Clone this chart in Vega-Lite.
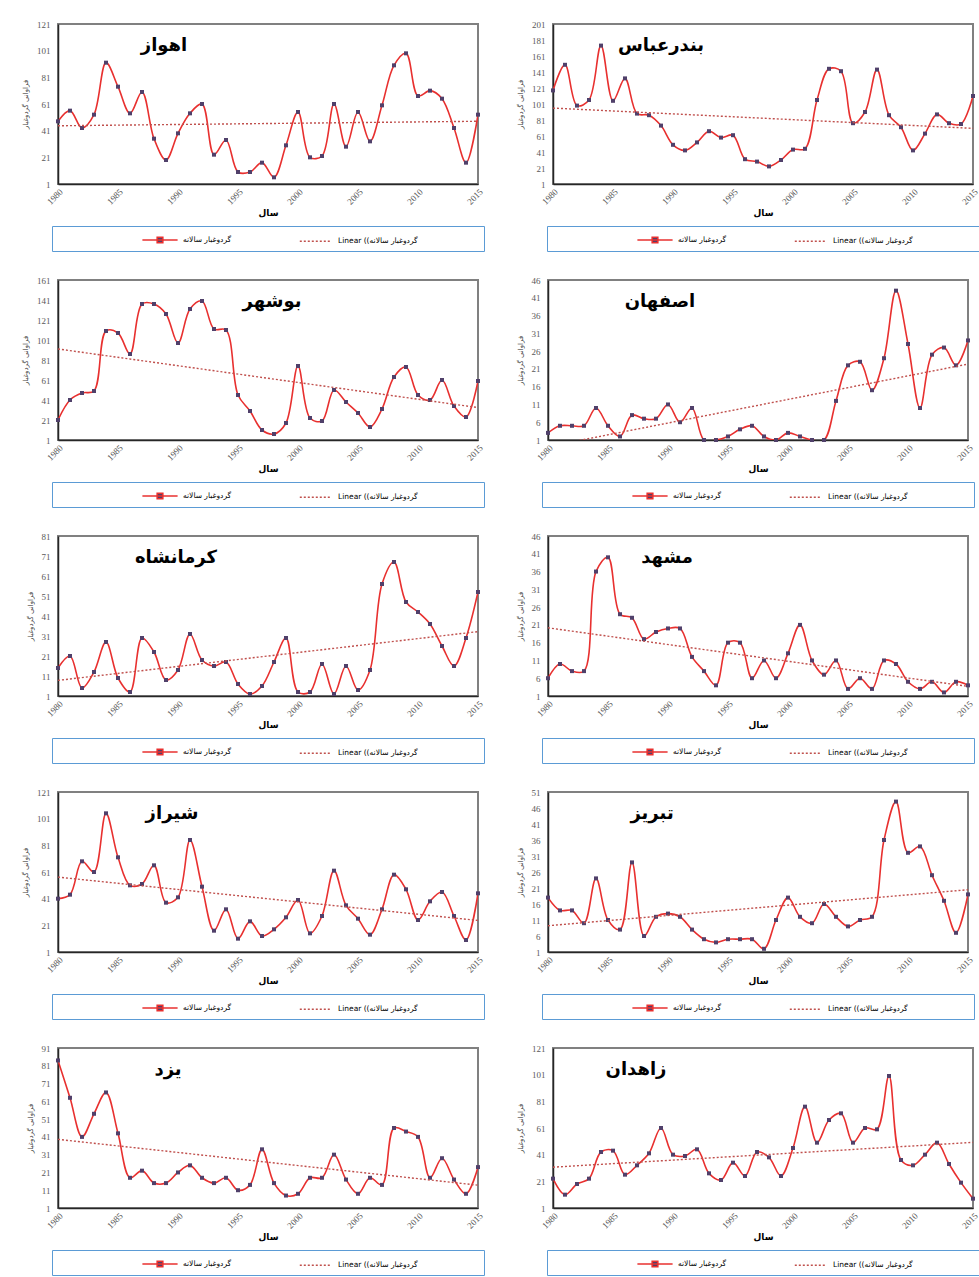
{
"$schema": "https://vega.github.io/schema/vega-lite/v6.json",
"padding": {"left": 20, "top": 19, "right": 0, "bottom": 0},
"datasets": {
"ahvaz": [{"year":1980,"value":48},{"year":1981,"value":56},{"year":1982,"value":43},{"year":1983,"value":53},{"year":1984,"value":92},{"year":1985,"value":74},{"year":1986,"value":54},{"year":1987,"value":70},{"year":1988,"value":35},{"year":1989,"value":19},{"year":1990,"value":39},{"year":1991,"value":54},{"year":1992,"value":61},{"year":1993,"value":23},{"year":1994,"value":34},{"year":1995,"value":10},{"year":1996,"value":10},{"year":1997,"value":17},{"year":1998,"value":6},{"year":1999,"value":30},{"year":2000,"value":55},{"year":2001,"value":21},{"year":2002,"value":22},{"year":2003,"value":61},{"year":2004,"value":29},{"year":2005,"value":55},{"year":2006,"value":33},{"year":2007,"value":60},{"year":2008,"value":90},{"year":2009,"value":99},{"year":2010,"value":67},{"year":2011,"value":71},{"year":2012,"value":65},{"year":2013,"value":43},{"year":2014,"value":17},{"year":2015,"value":53}],
"bandarabbas": [{"year":1980,"value":118},{"year":1981,"value":150},{"year":1982,"value":99},{"year":1983,"value":106},{"year":1984,"value":174},{"year":1985,"value":105},{"year":1986,"value":133},{"year":1987,"value":89},{"year":1988,"value":87},{"year":1989,"value":74},{"year":1990,"value":50},{"year":1991,"value":43},{"year":1992,"value":53},{"year":1993,"value":67},{"year":1994,"value":59},{"year":1995,"value":62},{"year":1996,"value":32},{"year":1997,"value":29},{"year":1998,"value":23},{"year":1999,"value":31},{"year":2000,"value":44},{"year":2001,"value":45},{"year":2002,"value":106},{"year":2003,"value":145},{"year":2004,"value":142},{"year":2005,"value":77},{"year":2006,"value":91},{"year":2007,"value":144},{"year":2008,"value":87},{"year":2009,"value":72},{"year":2010,"value":43},{"year":2011,"value":64},{"year":2012,"value":88},{"year":2013,"value":77},{"year":2014,"value":76},{"year":2015,"value":111}],
"bushehr": [{"year":1980,"value":21},{"year":1981,"value":41},{"year":1982,"value":48},{"year":1983,"value":50},{"year":1984,"value":110},{"year":1985,"value":108},{"year":1986,"value":87},{"year":1987,"value":137},{"year":1988,"value":137},{"year":1989,"value":127},{"year":1990,"value":98},{"year":1991,"value":132},{"year":1992,"value":140},{"year":1993,"value":112},{"year":1994,"value":111},{"year":1995,"value":46},{"year":1996,"value":30},{"year":1997,"value":11},{"year":1998,"value":7},{"year":1999,"value":18},{"year":2000,"value":75},{"year":2001,"value":23},{"year":2002,"value":20},{"year":2003,"value":51},{"year":2004,"value":39},{"year":2005,"value":28},{"year":2006,"value":14},{"year":2007,"value":32},{"year":2008,"value":64},{"year":2009,"value":74},{"year":2010,"value":46},{"year":2011,"value":41},{"year":2012,"value":61},{"year":2013,"value":35},{"year":2014,"value":24},{"year":2015,"value":60}],
"isfahan": [{"year":1980,"value":3},{"year":1981,"value":5},{"year":1982,"value":5},{"year":1983,"value":5},{"year":1984,"value":10},{"year":1985,"value":5},{"year":1986,"value":2},{"year":1987,"value":8},{"year":1988,"value":7},{"year":1989,"value":7},{"year":1990,"value":11},{"year":1991,"value":6},{"year":1992,"value":10},{"year":1993,"value":1},{"year":1994,"value":1},{"year":1995,"value":2},{"year":1996,"value":4},{"year":1997,"value":5},{"year":1998,"value":2},{"year":1999,"value":1},{"year":2000,"value":3},{"year":2001,"value":2},{"year":2002,"value":1},{"year":2003,"value":1},{"year":2004,"value":12},{"year":2005,"value":22},{"year":2006,"value":23},{"year":2007,"value":15},{"year":2008,"value":24},{"year":2009,"value":43},{"year":2010,"value":28},{"year":2011,"value":10},{"year":2012,"value":25},{"year":2013,"value":27},{"year":2014,"value":22},{"year":2015,"value":29}],
"kermanshah": [{"year":1980,"value":15},{"year":1981,"value":21},{"year":1982,"value":5},{"year":1983,"value":13},{"year":1984,"value":28},{"year":1985,"value":10},{"year":1986,"value":3},{"year":1987,"value":30},{"year":1988,"value":23},{"year":1989,"value":9},{"year":1990,"value":14},{"year":1991,"value":32},{"year":1992,"value":19},{"year":1993,"value":16},{"year":1994,"value":18},{"year":1995,"value":7},{"year":1996,"value":2},{"year":1997,"value":6},{"year":1998,"value":18},{"year":1999,"value":30},{"year":2000,"value":3},{"year":2001,"value":3},{"year":2002,"value":17},{"year":2003,"value":2},{"year":2004,"value":16},{"year":2005,"value":4},{"year":2006,"value":14},{"year":2007,"value":57},{"year":2008,"value":68},{"year":2009,"value":48},{"year":2010,"value":43},{"year":2011,"value":37},{"year":2012,"value":26},{"year":2013,"value":16},{"year":2014,"value":30},{"year":2015,"value":53}],
"mashhad": [{"year":1980,"value":6},{"year":1981,"value":10},{"year":1982,"value":8},{"year":1983,"value":8},{"year":1984,"value":36},{"year":1985,"value":40},{"year":1986,"value":24},{"year":1987,"value":23},{"year":1988,"value":17},{"year":1989,"value":19},{"year":1990,"value":20},{"year":1991,"value":20},{"year":1992,"value":12},{"year":1993,"value":8},{"year":1994,"value":4},{"year":1995,"value":16},{"year":1996,"value":16},{"year":1997,"value":6},{"year":1998,"value":11},{"year":1999,"value":6},{"year":2000,"value":13},{"year":2001,"value":21},{"year":2002,"value":11},{"year":2003,"value":7},{"year":2004,"value":11},{"year":2005,"value":3},{"year":2006,"value":6},{"year":2007,"value":3},{"year":2008,"value":11},{"year":2009,"value":10},{"year":2010,"value":5},{"year":2011,"value":3},{"year":2012,"value":5},{"year":2013,"value":2},{"year":2014,"value":5},{"year":2015,"value":4}],
"shiraz": [{"year":1980,"value":41},{"year":1981,"value":44},{"year":1982,"value":69},{"year":1983,"value":61},{"year":1984,"value":105},{"year":1985,"value":72},{"year":1986,"value":51},{"year":1987,"value":52},{"year":1988,"value":66},{"year":1989,"value":38},{"year":1990,"value":42},{"year":1991,"value":85},{"year":1992,"value":50},{"year":1993,"value":17},{"year":1994,"value":33},{"year":1995,"value":11},{"year":1996,"value":24},{"year":1997,"value":13},{"year":1998,"value":18},{"year":1999,"value":27},{"year":2000,"value":40},{"year":2001,"value":15},{"year":2002,"value":28},{"year":2003,"value":62},{"year":2004,"value":36},{"year":2005,"value":26},{"year":2006,"value":14},{"year":2007,"value":33},{"year":2008,"value":59},{"year":2009,"value":48},{"year":2010,"value":25},{"year":2011,"value":39},{"year":2012,"value":46},{"year":2013,"value":28},{"year":2014,"value":10},{"year":2015,"value":45}],
"tabriz": [{"year":1980,"value":18},{"year":1981,"value":14},{"year":1982,"value":14},{"year":1983,"value":10},{"year":1984,"value":24},{"year":1985,"value":11},{"year":1986,"value":8},{"year":1987,"value":29},{"year":1988,"value":6},{"year":1989,"value":12},{"year":1990,"value":13},{"year":1991,"value":12},{"year":1992,"value":8},{"year":1993,"value":5},{"year":1994,"value":4},{"year":1995,"value":5},{"year":1996,"value":5},{"year":1997,"value":5},{"year":1998,"value":2},{"year":1999,"value":11},{"year":2000,"value":18},{"year":2001,"value":12},{"year":2002,"value":10},{"year":2003,"value":16},{"year":2004,"value":12},{"year":2005,"value":9},{"year":2006,"value":11},{"year":2007,"value":12},{"year":2008,"value":36},{"year":2009,"value":48},{"year":2010,"value":32},{"year":2011,"value":34},{"year":2012,"value":25},{"year":2013,"value":17},{"year":2014,"value":7},{"year":2015,"value":19}],
"yazd": [{"year":1980,"value":84},{"year":1981,"value":63},{"year":1982,"value":41},{"year":1983,"value":54},{"year":1984,"value":66},{"year":1985,"value":43},{"year":1986,"value":18},{"year":1987,"value":22},{"year":1988,"value":15},{"year":1989,"value":15},{"year":1990,"value":21},{"year":1991,"value":25},{"year":1992,"value":18},{"year":1993,"value":15},{"year":1994,"value":18},{"year":1995,"value":11},{"year":1996,"value":14},{"year":1997,"value":34},{"year":1998,"value":15},{"year":1999,"value":8},{"year":2000,"value":9},{"year":2001,"value":18},{"year":2002,"value":18},{"year":2003,"value":31},{"year":2004,"value":17},{"year":2005,"value":9},{"year":2006,"value":18},{"year":2007,"value":14},{"year":2008,"value":46},{"year":2009,"value":44},{"year":2010,"value":41},{"year":2011,"value":18},{"year":2012,"value":29},{"year":2013,"value":17},{"year":2014,"value":9},{"year":2015,"value":24}],
"zahedan": [{"year":1980,"value":23},{"year":1981,"value":11},{"year":1982,"value":19},{"year":1983,"value":23},{"year":1984,"value":43},{"year":1985,"value":44},{"year":1986,"value":26},{"year":1987,"value":33},{"year":1988,"value":42},{"year":1989,"value":61},{"year":1990,"value":41},{"year":1991,"value":40},{"year":1992,"value":45},{"year":1993,"value":27},{"year":1994,"value":22},{"year":1995,"value":35},{"year":1996,"value":25},{"year":1997,"value":43},{"year":1998,"value":39},{"year":1999,"value":25},{"year":2000,"value":46},{"year":2001,"value":77},{"year":2002,"value":50},{"year":2003,"value":67},{"year":2004,"value":72},{"year":2005,"value":50},{"year":2006,"value":61},{"year":2007,"value":60},{"year":2008,"value":100},{"year":2009,"value":37},{"year":2010,"value":33},{"year":2011,"value":41},{"year":2012,"value":50},{"year":2013,"value":34},{"year":2014,"value":20},{"year":2015,"value":8}]
},
"spacing": 22,
"resolve": {"scale": {"color": "independent"}, "legend": {"color": "independent"}},
"vconcat": [
{"spacing": 29, "resolve": {"scale": {"color": "independent"}, "legend": {"color": "independent"}}, "hconcat": [
{"data": {"name": "ahvaz"}, "width": 420, "height": 160, "title": {"text": "اهواز", "dx": -104},
 "encoding": {"x": {"field": "year", "type": "quantitative", "scale": {"domain": [1980, 2015]}, "axis": {"values": [1980,1985,1990,1995,2000,2005,2010,2015], "format": "d", "title": "سال"}},
  "y": {"field": "value", "type": "quantitative", "scale": {"domain": [1, 121]}, "axis": {"values": [1,21,41,61,81,101,121], "title": "فراوانی گردوغبار"}}},
 "layer": [
  {"mark": {"type": "line", "interpolate": "catmull-rom", "strokeWidth": 1.6, "clip": true}, "encoding": {"color": {"datum": "گردوغبار سالانه", "type": "nominal", "scale": {"domain": ["گردوغبار سالانه", "Linear ((گردوغبار سالانه"], "range": ["#e8302f", "#c0504d"]}, "legend": {"title": " ", "labelExpr": "datum.index === 1 ? datum.label + '\u2800\u2800\u2800\u2800\u2800\u2800\u2800\u2800\u2800\u2800\u2800' : datum.label", "encode": {"symbols": {"update": {"shape": {"signal": "datum.index === 0 ? 'M-2.2,0H2.2M-0.35,-0.35H0.35V0.35H-0.35Z' : 'M-1.9,0H1.9'"}, "strokeDash": {"signal": "datum.index === 0 ? [1,0] : [2,2]"}, "fill": {"signal": "datum.index === 0 ? '#50406a' : 'transparent'"}}}}}}}},
  {"mark": {"type": "square", "size": 16, "color": "#50406a", "opacity": 1}},
  {"transform": [{"regression": "value", "on": "year"}], "mark": {"type": "line", "strokeWidth": 1.4, "strokeDash": [2, 2], "clip": true}, "encoding": {"color": {"datum": "Linear ((گردوغبار سالانه", "type": "nominal"}}}
 ]},
{"data": {"name": "bandarabbas"}, "width": 420, "height": 160, "title": {"text": "بندرعباس", "dx": -102},
 "encoding": {"x": {"field": "year", "type": "quantitative", "scale": {"domain": [1980, 2015]}, "axis": {"values": [1980,1985,1990,1995,2000,2005,2010,2015], "format": "d", "title": "سال"}},
  "y": {"field": "value", "type": "quantitative", "scale": {"domain": [1, 201]}, "axis": {"values": [1,21,41,61,81,101,121,141,161,181,201], "title": "فراوانی گردوغبار"}}},
 "layer": [
  {"mark": {"type": "line", "interpolate": "catmull-rom", "strokeWidth": 1.6, "clip": true}, "encoding": {"color": {"datum": "گردوغبار سالانه", "type": "nominal", "scale": {"domain": ["گردوغبار سالانه", "Linear ((گردوغبار سالانه"], "range": ["#e8302f", "#c0504d"]}, "legend": {"title": " ", "labelExpr": "datum.index === 1 ? datum.label + '\u2800\u2800\u2800\u2800\u2800\u2800\u2800\u2800\u2800\u2800\u2800' : datum.label", "encode": {"symbols": {"update": {"shape": {"signal": "datum.index === 0 ? 'M-2.2,0H2.2M-0.35,-0.35H0.35V0.35H-0.35Z' : 'M-1.9,0H1.9'"}, "strokeDash": {"signal": "datum.index === 0 ? [1,0] : [2,2]"}, "fill": {"signal": "datum.index === 0 ? '#50406a' : 'transparent'"}}}}}}}},
  {"mark": {"type": "square", "size": 16, "color": "#50406a", "opacity": 1}},
  {"transform": [{"regression": "value", "on": "year"}], "mark": {"type": "line", "strokeWidth": 1.4, "strokeDash": [2, 2], "clip": true}, "encoding": {"color": {"datum": "Linear ((گردوغبار سالانه", "type": "nominal"}}}
 ]}
]},
{"spacing": 29, "resolve": {"scale": {"color": "independent"}, "legend": {"color": "independent"}}, "hconcat": [
{"data": {"name": "bushehr"}, "width": 420, "height": 160, "title": {"text": "بوشهر", "dx": 4},
 "encoding": {"x": {"field": "year", "type": "quantitative", "scale": {"domain": [1980, 2015]}, "axis": {"values": [1980,1985,1990,1995,2000,2005,2010,2015], "format": "d", "title": "سال"}},
  "y": {"field": "value", "type": "quantitative", "scale": {"domain": [1, 161]}, "axis": {"values": [1,21,41,61,81,101,121,141,161], "title": "فراوانی گردوغبار"}}},
 "layer": [
  {"mark": {"type": "line", "interpolate": "catmull-rom", "strokeWidth": 1.6, "clip": true}, "encoding": {"color": {"datum": "گردوغبار سالانه", "type": "nominal", "scale": {"domain": ["گردوغبار سالانه", "Linear ((گردوغبار سالانه"], "range": ["#e8302f", "#c0504d"]}, "legend": {"title": " ", "labelExpr": "datum.index === 1 ? datum.label + '\u2800\u2800\u2800\u2800\u2800\u2800\u2800\u2800\u2800\u2800\u2800' : datum.label", "encode": {"symbols": {"update": {"shape": {"signal": "datum.index === 0 ? 'M-2.2,0H2.2M-0.35,-0.35H0.35V0.35H-0.35Z' : 'M-1.9,0H1.9'"}, "strokeDash": {"signal": "datum.index === 0 ? [1,0] : [2,2]"}, "fill": {"signal": "datum.index === 0 ? '#50406a' : 'transparent'"}}}}}}}},
  {"mark": {"type": "square", "size": 16, "color": "#50406a", "opacity": 1}},
  {"transform": [{"regression": "value", "on": "year"}], "mark": {"type": "line", "strokeWidth": 1.4, "strokeDash": [2, 2], "clip": true}, "encoding": {"color": {"datum": "Linear ((گردوغبار سالانه", "type": "nominal"}}}
 ]},
{"data": {"name": "isfahan"}, "width": 420, "height": 160, "title": {"text": "اصفهان", "dx": -98},
 "encoding": {"x": {"field": "year", "type": "quantitative", "scale": {"domain": [1980, 2015]}, "axis": {"values": [1980,1985,1990,1995,2000,2005,2010,2015], "format": "d", "title": "سال"}},
  "y": {"field": "value", "type": "quantitative", "scale": {"domain": [1, 46]}, "axis": {"values": [1,6,11,16,21,26,31,36,41,46], "title": "فراوانی گردوغبار"}}},
 "layer": [
  {"mark": {"type": "line", "interpolate": "catmull-rom", "strokeWidth": 1.6, "clip": true}, "encoding": {"color": {"datum": "گردوغبار سالانه", "type": "nominal", "scale": {"domain": ["گردوغبار سالانه", "Linear ((گردوغبار سالانه"], "range": ["#e8302f", "#c0504d"]}, "legend": {"title": " ", "labelExpr": "datum.index === 1 ? datum.label + '\u2800\u2800\u2800\u2800\u2800\u2800\u2800\u2800\u2800\u2800\u2800' : datum.label", "encode": {"symbols": {"update": {"shape": {"signal": "datum.index === 0 ? 'M-2.2,0H2.2M-0.35,-0.35H0.35V0.35H-0.35Z' : 'M-1.9,0H1.9'"}, "strokeDash": {"signal": "datum.index === 0 ? [1,0] : [2,2]"}, "fill": {"signal": "datum.index === 0 ? '#50406a' : 'transparent'"}}}}}}}},
  {"mark": {"type": "square", "size": 16, "color": "#50406a", "opacity": 1}},
  {"transform": [{"regression": "value", "on": "year"}], "mark": {"type": "line", "strokeWidth": 1.4, "strokeDash": [2, 2], "clip": true}, "encoding": {"color": {"datum": "Linear ((گردوغبار سالانه", "type": "nominal"}}}
 ]}
]},
{"spacing": 29, "resolve": {"scale": {"color": "independent"}, "legend": {"color": "independent"}}, "hconcat": [
{"data": {"name": "kermanshah"}, "width": 420, "height": 160, "title": {"text": "کرمانشاه", "dx": -92},
 "encoding": {"x": {"field": "year", "type": "quantitative", "scale": {"domain": [1980, 2015]}, "axis": {"values": [1980,1985,1990,1995,2000,2005,2010,2015], "format": "d", "title": "سال"}},
  "y": {"field": "value", "type": "quantitative", "scale": {"domain": [1, 81]}, "axis": {"values": [1,11,21,31,41,51,61,71,81], "title": "فراوانی گردوغبار"}}},
 "layer": [
  {"mark": {"type": "line", "interpolate": "catmull-rom", "strokeWidth": 1.6, "clip": true}, "encoding": {"color": {"datum": "گردوغبار سالانه", "type": "nominal", "scale": {"domain": ["گردوغبار سالانه", "Linear ((گردوغبار سالانه"], "range": ["#e8302f", "#c0504d"]}, "legend": {"title": " ", "labelExpr": "datum.index === 1 ? datum.label + '\u2800\u2800\u2800\u2800\u2800\u2800\u2800\u2800\u2800\u2800\u2800' : datum.label", "encode": {"symbols": {"update": {"shape": {"signal": "datum.index === 0 ? 'M-2.2,0H2.2M-0.35,-0.35H0.35V0.35H-0.35Z' : 'M-1.9,0H1.9'"}, "strokeDash": {"signal": "datum.index === 0 ? [1,0] : [2,2]"}, "fill": {"signal": "datum.index === 0 ? '#50406a' : 'transparent'"}}}}}}}},
  {"mark": {"type": "square", "size": 16, "color": "#50406a", "opacity": 1}},
  {"transform": [{"regression": "value", "on": "year"}], "mark": {"type": "line", "strokeWidth": 1.4, "strokeDash": [2, 2], "clip": true}, "encoding": {"color": {"datum": "Linear ((گردوغبار سالانه", "type": "nominal"}}}
 ]},
{"data": {"name": "mashhad"}, "width": 420, "height": 160, "title": {"text": "مشهد", "dx": -91},
 "encoding": {"x": {"field": "year", "type": "quantitative", "scale": {"domain": [1980, 2015]}, "axis": {"values": [1980,1985,1990,1995,2000,2005,2010,2015], "format": "d", "title": "سال"}},
  "y": {"field": "value", "type": "quantitative", "scale": {"domain": [1, 46]}, "axis": {"values": [1,6,11,16,21,26,31,36,41,46], "title": "فراوانی گردوغبار"}}},
 "layer": [
  {"mark": {"type": "line", "interpolate": "catmull-rom", "strokeWidth": 1.6, "clip": true}, "encoding": {"color": {"datum": "گردوغبار سالانه", "type": "nominal", "scale": {"domain": ["گردوغبار سالانه", "Linear ((گردوغبار سالانه"], "range": ["#e8302f", "#c0504d"]}, "legend": {"title": " ", "labelExpr": "datum.index === 1 ? datum.label + '\u2800\u2800\u2800\u2800\u2800\u2800\u2800\u2800\u2800\u2800\u2800' : datum.label", "encode": {"symbols": {"update": {"shape": {"signal": "datum.index === 0 ? 'M-2.2,0H2.2M-0.35,-0.35H0.35V0.35H-0.35Z' : 'M-1.9,0H1.9'"}, "strokeDash": {"signal": "datum.index === 0 ? [1,0] : [2,2]"}, "fill": {"signal": "datum.index === 0 ? '#50406a' : 'transparent'"}}}}}}}},
  {"mark": {"type": "square", "size": 16, "color": "#50406a", "opacity": 1}},
  {"transform": [{"regression": "value", "on": "year"}], "mark": {"type": "line", "strokeWidth": 1.4, "strokeDash": [2, 2], "clip": true}, "encoding": {"color": {"datum": "Linear ((گردوغبار سالانه", "type": "nominal"}}}
 ]}
]},
{"spacing": 29, "resolve": {"scale": {"color": "independent"}, "legend": {"color": "independent"}}, "hconcat": [
{"data": {"name": "shiraz"}, "width": 420, "height": 160, "title": {"text": "شیراز", "dx": -96},
 "encoding": {"x": {"field": "year", "type": "quantitative", "scale": {"domain": [1980, 2015]}, "axis": {"values": [1980,1985,1990,1995,2000,2005,2010,2015], "format": "d", "title": "سال"}},
  "y": {"field": "value", "type": "quantitative", "scale": {"domain": [1, 121]}, "axis": {"values": [1,21,41,61,81,101,121], "title": "فراوانی گردوغبار"}}},
 "layer": [
  {"mark": {"type": "line", "interpolate": "catmull-rom", "strokeWidth": 1.6, "clip": true}, "encoding": {"color": {"datum": "گردوغبار سالانه", "type": "nominal", "scale": {"domain": ["گردوغبار سالانه", "Linear ((گردوغبار سالانه"], "range": ["#e8302f", "#c0504d"]}, "legend": {"title": " ", "labelExpr": "datum.index === 1 ? datum.label + '\u2800\u2800\u2800\u2800\u2800\u2800\u2800\u2800\u2800\u2800\u2800' : datum.label", "encode": {"symbols": {"update": {"shape": {"signal": "datum.index === 0 ? 'M-2.2,0H2.2M-0.35,-0.35H0.35V0.35H-0.35Z' : 'M-1.9,0H1.9'"}, "strokeDash": {"signal": "datum.index === 0 ? [1,0] : [2,2]"}, "fill": {"signal": "datum.index === 0 ? '#50406a' : 'transparent'"}}}}}}}},
  {"mark": {"type": "square", "size": 16, "color": "#50406a", "opacity": 1}},
  {"transform": [{"regression": "value", "on": "year"}], "mark": {"type": "line", "strokeWidth": 1.4, "strokeDash": [2, 2], "clip": true}, "encoding": {"color": {"datum": "Linear ((گردوغبار سالانه", "type": "nominal"}}}
 ]},
{"data": {"name": "tabriz"}, "width": 420, "height": 160, "title": {"text": "تبریز", "dx": -106},
 "encoding": {"x": {"field": "year", "type": "quantitative", "scale": {"domain": [1980, 2015]}, "axis": {"values": [1980,1985,1990,1995,2000,2005,2010,2015], "format": "d", "title": "سال"}},
  "y": {"field": "value", "type": "quantitative", "scale": {"domain": [1, 51]}, "axis": {"values": [1,6,11,16,21,26,31,36,41,46,51], "title": "فراوانی گردوغبار"}}},
 "layer": [
  {"mark": {"type": "line", "interpolate": "catmull-rom", "strokeWidth": 1.6, "clip": true}, "encoding": {"color": {"datum": "گردوغبار سالانه", "type": "nominal", "scale": {"domain": ["گردوغبار سالانه", "Linear ((گردوغبار سالانه"], "range": ["#e8302f", "#c0504d"]}, "legend": {"title": " ", "labelExpr": "datum.index === 1 ? datum.label + '\u2800\u2800\u2800\u2800\u2800\u2800\u2800\u2800\u2800\u2800\u2800' : datum.label", "encode": {"symbols": {"update": {"shape": {"signal": "datum.index === 0 ? 'M-2.2,0H2.2M-0.35,-0.35H0.35V0.35H-0.35Z' : 'M-1.9,0H1.9'"}, "strokeDash": {"signal": "datum.index === 0 ? [1,0] : [2,2]"}, "fill": {"signal": "datum.index === 0 ? '#50406a' : 'transparent'"}}}}}}}},
  {"mark": {"type": "square", "size": 16, "color": "#50406a", "opacity": 1}},
  {"transform": [{"regression": "value", "on": "year"}], "mark": {"type": "line", "strokeWidth": 1.4, "strokeDash": [2, 2], "clip": true}, "encoding": {"color": {"datum": "Linear ((گردوغبار سالانه", "type": "nominal"}}}
 ]}
]},
{"spacing": 29, "resolve": {"scale": {"color": "independent"}, "legend": {"color": "independent"}}, "hconcat": [
{"data": {"name": "yazd"}, "width": 420, "height": 160, "title": {"text": "یزد", "dx": -100},
 "encoding": {"x": {"field": "year", "type": "quantitative", "scale": {"domain": [1980, 2015]}, "axis": {"values": [1980,1985,1990,1995,2000,2005,2010,2015], "format": "d", "title": "سال"}},
  "y": {"field": "value", "type": "quantitative", "scale": {"domain": [1, 91]}, "axis": {"values": [1,11,21,31,41,51,61,71,81,91], "title": "فراوانی گردوغبار"}}},
 "layer": [
  {"mark": {"type": "line", "interpolate": "catmull-rom", "strokeWidth": 1.6, "clip": true}, "encoding": {"color": {"datum": "گردوغبار سالانه", "type": "nominal", "scale": {"domain": ["گردوغبار سالانه", "Linear ((گردوغبار سالانه"], "range": ["#e8302f", "#c0504d"]}, "legend": {"title": " ", "labelExpr": "datum.index === 1 ? datum.label + '\u2800\u2800\u2800\u2800\u2800\u2800\u2800\u2800\u2800\u2800\u2800' : datum.label", "encode": {"symbols": {"update": {"shape": {"signal": "datum.index === 0 ? 'M-2.2,0H2.2M-0.35,-0.35H0.35V0.35H-0.35Z' : 'M-1.9,0H1.9'"}, "strokeDash": {"signal": "datum.index === 0 ? [1,0] : [2,2]"}, "fill": {"signal": "datum.index === 0 ? '#50406a' : 'transparent'"}}}}}}}},
  {"mark": {"type": "square", "size": 16, "color": "#50406a", "opacity": 1}},
  {"transform": [{"regression": "value", "on": "year"}], "mark": {"type": "line", "strokeWidth": 1.4, "strokeDash": [2, 2], "clip": true}, "encoding": {"color": {"datum": "Linear ((گردوغبار سالانه", "type": "nominal"}}}
 ]},
{"data": {"name": "zahedan"}, "width": 420, "height": 160, "title": {"text": "زاهدان", "dx": -127},
 "encoding": {"x": {"field": "year", "type": "quantitative", "scale": {"domain": [1980, 2015]}, "axis": {"values": [1980,1985,1990,1995,2000,2005,2010,2015], "format": "d", "title": "سال"}},
  "y": {"field": "value", "type": "quantitative", "scale": {"domain": [1, 121]}, "axis": {"values": [1,21,41,61,81,101,121], "title": "فراوانی گردوغبار"}}},
 "layer": [
  {"mark": {"type": "line", "interpolate": "catmull-rom", "strokeWidth": 1.6, "clip": true}, "encoding": {"color": {"datum": "گردوغبار سالانه", "type": "nominal", "scale": {"domain": ["گردوغبار سالانه", "Linear ((گردوغبار سالانه"], "range": ["#e8302f", "#c0504d"]}, "legend": {"title": " ", "labelExpr": "datum.index === 1 ? datum.label + '\u2800\u2800\u2800\u2800\u2800\u2800\u2800\u2800\u2800\u2800\u2800' : datum.label", "encode": {"symbols": {"update": {"shape": {"signal": "datum.index === 0 ? 'M-2.2,0H2.2M-0.35,-0.35H0.35V0.35H-0.35Z' : 'M-1.9,0H1.9'"}, "strokeDash": {"signal": "datum.index === 0 ? [1,0] : [2,2]"}, "fill": {"signal": "datum.index === 0 ? '#50406a' : 'transparent'"}}}}}}}},
  {"mark": {"type": "square", "size": 16, "color": "#50406a", "opacity": 1}},
  {"transform": [{"regression": "value", "on": "year"}], "mark": {"type": "line", "strokeWidth": 1.4, "strokeDash": [2, 2], "clip": true}, "encoding": {"color": {"datum": "Linear ((گردوغبار سالانه", "type": "nominal"}}}
 ]}
]}
],
"config": {
 "background": "white",
 "view": {"stroke": "#808080", "strokeWidth": 2},
 "title": {"font": "DejaVu Sans", "fontSize": 18, "fontWeight": "bold", "color": "#000000", "anchor": "middle", "frame": "group", "offset": -35},
 "axis": {"grid": false, "ticks": false, "domainColor": "#262626", "domainWidth": 1.5, "labelFont": "Liberation Serif", "labelFontSize": 9, "labelColor": "#595959", "titleFont": "DejaVu Sans", "titleColor": "#404040"},
 "axisX": {"labelAngle": -45, "titleFontSize": 9, "titleFontWeight": "bold", "titleColor": "#000000", "titlePadding": 2, "labelPadding": 3},
 "axisY": {"titleFontSize": 7, "titleFontWeight": "normal", "labelPadding": 8, "titlePadding": 8},
 "legend": {"orient": "bottom", "direction": "horizontal", "strokeColor": "#5b9bd5", "fillColor": "white", "padding": 5, "columnPadding": 64, "symbolSize": 256, "symbolStrokeWidth": 1.6, "symbolType": "stroke", "labelFont": "DejaVu Sans", "labelFontSize": 7.5, "labelColor": "#000000", "labelLimit": 400, "labelOffset": 14, "titleOrient": "left", "titlePadding": 94, "titleFontSize": 8, "offset": 8, "layout": {"bottom": {"anchor": "middle"}}}
}
}
